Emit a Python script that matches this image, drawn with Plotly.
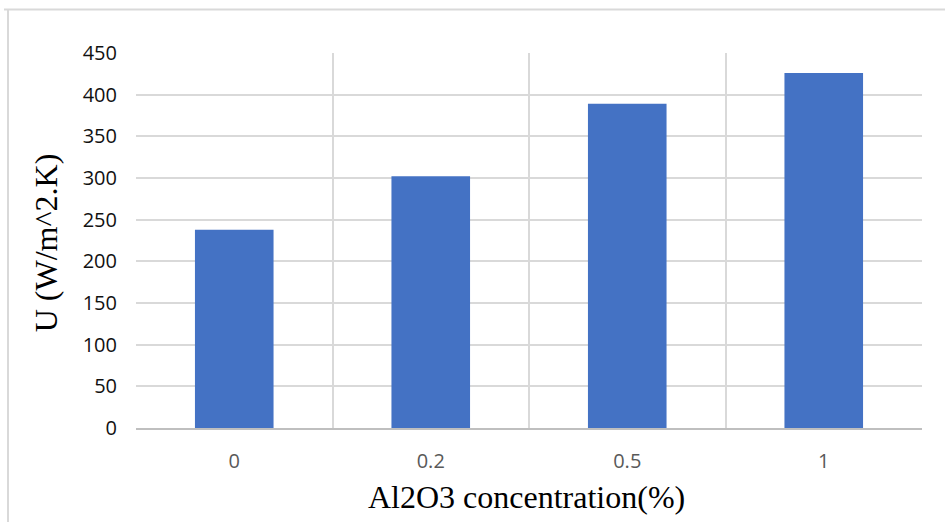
import plotly.graph_objects as go

categories = ["0", "0.2", "0.5", "1"]
u_values = [238, 302, 389, 426]
y_ticks = [0, 50, 100, 150, 200, 250, 300, 350, 400, 450]

W, H = 945, 522
L, R, T, B = 136, 23, 52.5, 94
pw, ph = W - L - R, H - T - B

def px_x(px):
    return (px - L) / pw

def px_y(py):
    return (H - B - py) / ph

fig = go.Figure()
fig.add_trace(go.Bar(
    x=categories, y=u_values, width=0.4,
    marker=dict(color="#4472C4", line=dict(width=0)),
))

grid = "#d9d9d9"
fig.update_layout(
    width=W, height=H,
    margin=dict(l=L, r=R, t=T, b=B),
    paper_bgcolor="white", plot_bgcolor="white",
    showlegend=False,
    xaxis=dict(
        type="category", tickson="boundaries", showgrid=True,
        gridcolor=grid, gridwidth=1.5,
        showline=True, linecolor="#bfbfbf", linewidth=1.5,
        ticks="", ticklabelstandoff=14,
        tickfont=dict(family="Open Sans", size=20, color="#595959"),
        range=[-0.5, 3.5],
    ),
    yaxis=dict(
        range=[0, 450], tickvals=y_ticks, showgrid=True,
        gridcolor=grid, gridwidth=1.5, zeroline=False,
        ticks="", ticklabelstandoff=18,
        tickfont=dict(family="Open Sans", size=20, color="#111111"),
    ),
    annotations=[
        dict(text="U (W/m^2.K)", textangle=-90, xref="paper", yref="paper",
             x=px_x(46), y=px_y(243), xanchor="center", yanchor="middle",
             showarrow=False, font=dict(family="Liberation Serif", size=32, color="black")),
        dict(text="Al2O3 concentration(%)", xref="paper", yref="paper",
             x=px_x(526), y=px_y(497), xanchor="center", yanchor="middle",
             showarrow=False, font=dict(family="Liberation Serif", size=32, color="black")),
    ],
    shapes=[
        dict(type="line", xref="paper", yref="paper", x0=px_x(8), x1=px_x(8),
             y0=px_y(9), y1=px_y(530), line=dict(color="#d9d9d9", width=2)),
        dict(type="line", xref="paper", yref="paper", x0=px_x(4), x1=px_x(950),
             y0=px_y(9), y1=px_y(9), line=dict(color="#d9d9d9", width=2)),
    ],
)

fig.write_html("out.html")
